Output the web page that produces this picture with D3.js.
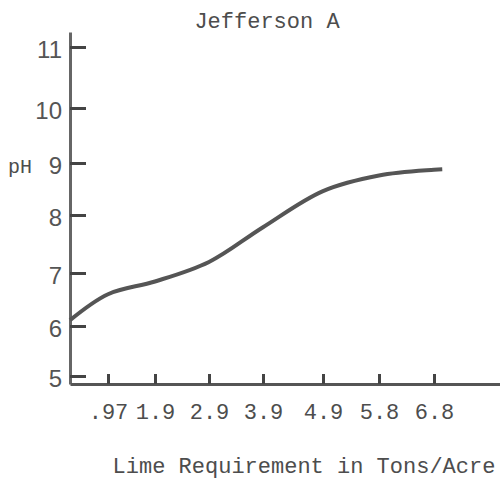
<!DOCTYPE html>
<html>
<head>
<meta charset="utf-8">
<script src="https://cdn.jsdelivr.net/npm/d3@7/dist/d3.min.js"></script>
<style>
  html, body { margin: 0; padding: 0; background: #fff; }
  svg { display: block; }
</style>
</head>
<body>
<svg id="chart" width="500" height="482"></svg>
<script>
// Lime requirement (tons/acre) tick labels along the x axis
const limeTicks = [0.97, 1.9, 2.9, 3.9, 4.9, 5.8, 6.8];
const limeTickLabels = [".97", "1.9", "2.9", "3.9", "4.9", "5.8", "6.8"];

// pH tick values along the y axis
const phTicks = [5, 6, 7, 8, 9, 10, 11];

// Titration curve: pH reached for each amount of lime
const limeValues = [0, 0.97, 1.9, 2.9, 3.9, 4.9, 5.8, 6.8, 6.95];
const phValues   = [6.11, 6.60, 6.84, 7.19, 7.79, 8.46, 8.76, 8.87, 8.88];

const svg = d3.select("#chart");
const ink = "#4d4d4d";
const mono = "'Liberation Mono', 'Courier New', monospace";

// The hand-ruled axes are not evenly spaced, so both scales are piecewise linear
const x = d3.scaleLinear()
  .domain([0, 0.97, 1.9, 2.9, 3.9, 4.9, 5.8, 6.8, 8])
  .range([70, 108, 155, 209, 263, 323, 379, 434, 500]);

const y = d3.scaleLinear()
  .domain([4.84, 5, 6, 7, 8, 9, 10, 11, 11.25])
  .range([384, 376, 326, 273, 215, 163, 108, 47, 32]);

// Y axis with inward ticks
const yAxis = svg.append("g")
  .attr("transform", "translate(70,0)")
  .call(d3.axisLeft(y).tickValues(phTicks).tickFormat(d3.format("d"))
    .tickSizeInner(-16).tickSizeOuter(0).tickPadding(8));
yAxis.select(".domain").attr("stroke", "#666").attr("stroke-width", 3);
yAxis.selectAll(".tick line").attr("stroke", "#444").attr("stroke-width", 3);
yAxis.selectAll(".tick text")
  .attr("fill", "#555")
  .attr("font-family", "'Liberation Sans', Arial, sans-serif")
  .attr("font-size", 24)
  .attr("dy", "0.42em");

// X axis with upward ticks
const xAxis = svg.append("g")
  .attr("transform", "translate(0,384)")
  .call(d3.axisBottom(x).tickValues(limeTicks)
    .tickFormat((d, i) => limeTickLabels[i])
    .tickSizeInner(-10).tickSizeOuter(0));
xAxis.select(".domain").attr("stroke", "#555").attr("stroke-width", 3);
xAxis.selectAll(".tick line").attr("stroke", "#444").attr("stroke-width", 3);
xAxis.selectAll(".tick text")
  .attr("fill", ink)
  .attr("font-family", mono)
  .attr("font-size", 22)
  .attr("y", 35)
  .attr("dy", 0);
xAxis.attr("font-size", null).attr("font-family", null);
yAxis.attr("font-size", null).attr("font-family", null);

// Curve
const line = d3.line()
  .x((d, i) => x(limeValues[i]))
  .y(d => y(d))
  .curve(d3.curveCatmullRom.alpha(0.5));

svg.append("path")
  .datum(phValues)
  .attr("d", line)
  .attr("fill", "none")
  .attr("stroke", "#555")
  .attr("stroke-width", 4);

// Title and axis labels
svg.append("text")
  .attr("x", 267).attr("y", 28)
  .attr("text-anchor", "middle")
  .attr("font-family", mono).attr("font-size", 22)
  .attr("fill", ink)
  .text("Jefferson A");

svg.append("text")
  .attr("x", 8).attr("y", 173)
  .attr("font-family", mono).attr("font-size", 20)
  .attr("fill", ink)
  .text("pH");

svg.append("text")
  .attr("x", 304).attr("y", 473)
  .attr("text-anchor", "middle")
  .attr("font-family", mono).attr("font-size", 22)
  .attr("fill", ink)
  .text("Lime Requirement in Tons/Acre");
</script>
</body>
</html>
